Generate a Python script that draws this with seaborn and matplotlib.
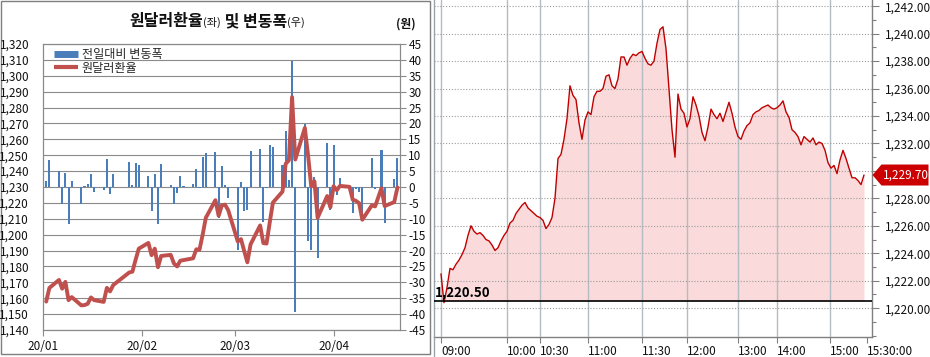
import numpy as np
import pandas as pd
import matplotlib
matplotlib.use("Agg")
import matplotlib.pyplot as plt
import matplotlib.dates as mdates
from matplotlib.lines import Line2D
from matplotlib.patches import Rectangle, Polygon
from matplotlib.transforms import IdentityTransform
from matplotlib.ticker import FuncFormatter, MultipleLocator
import seaborn as sns

# ---------------- data: left panel (daily) ----------------
dates = [
    "2020-01-02", "2020-01-03", "2020-01-06", "2020-01-07", "2020-01-08", "2020-01-09", "2020-01-10",
    "2020-01-13", "2020-01-14", "2020-01-15", "2020-01-16", "2020-01-17", "2020-01-20", "2020-01-21",
    "2020-01-22", "2020-01-23", "2020-01-28", "2020-01-29", "2020-01-30", "2020-01-31",
    "2020-02-03", "2020-02-04", "2020-02-05", "2020-02-06", "2020-02-07", "2020-02-10", "2020-02-11",
    "2020-02-12", "2020-02-13", "2020-02-14", "2020-02-17", "2020-02-18", "2020-02-19", "2020-02-20",
    "2020-02-21", "2020-02-24", "2020-02-25", "2020-02-26", "2020-02-27", "2020-02-28",
    "2020-03-02", "2020-03-03", "2020-03-04", "2020-03-05", "2020-03-06", "2020-03-09", "2020-03-10",
    "2020-03-11", "2020-03-12", "2020-03-13", "2020-03-16", "2020-03-17", "2020-03-18", "2020-03-19",
    "2020-03-20", "2020-03-23", "2020-03-24", "2020-03-25", "2020-03-26", "2020-03-27", "2020-03-30",
    "2020-03-31",
    "2020-04-01", "2020-04-02", "2020-04-03", "2020-04-06", "2020-04-07", "2020-04-08", "2020-04-09",
    "2020-04-10", "2020-04-13", "2020-04-14", "2020-04-16", "2020-04-17", "2020-04-20", "2020-04-21",
]
rate = [
    1157.9, 1166.5, 1171.5, 1166.0, 1170.3, 1158.8, 1160.7, 1155.5, 1155.7, 1156.5,
    1160.5, 1158.8, 1157.7, 1166.5, 1164.3, 1168.3, 1176.2, 1176.7, 1184.2, 1191.2,
    1194.8, 1187.1, 1191.2, 1179.5, 1186.6, 1187.3, 1181.9, 1180.0, 1183.6, 1184.0,
    1185.1, 1190.8, 1190.5, 1200.0, 1210.7, 1221.7, 1211.9, 1218.4, 1218.9, 1215.4,
    1195.7, 1197.2, 1189.8, 1182.6, 1193.9, 1205.8, 1194.7, 1194.4, 1207.6, 1220.2,
    1227.1, 1244.6, 1246.8, 1286.6, 1247.3, 1267.2, 1250.1, 1230.4, 1233.6, 1210.6,
    1224.3, 1217.2,
    1230.5, 1228.0, 1230.7, 1230.1, 1222.0, 1221.3, 1219.8, 1209.4, 1218.5, 1217.8,
    1229.3, 1218.0, 1220.5, 1229.7,
]
change = [
    1.8, 8.6, 5.0, -5.5, 4.3, -11.5, 1.9, -5.2, 0.2, 0.8,
    4.0, -1.7, -1.1, 8.8, -2.2, 4.0, 7.9, 0.5, 7.5, 7.0,
    3.6, -7.7, 4.1, -11.7, 7.1, 0.7, -5.4, -1.9, 3.6, 0.4,
    1.1, 5.7, -0.3, 9.5, 10.7, 11.0, -9.8, 6.5, 0.5, -3.5,
    -19.7, 1.5, -7.4, -7.2, 11.3, 11.9, -11.1, -0.3, 13.2, 12.6,
    6.9, 17.5, 2.2, 39.8, -39.3, 19.9, -17.1, -19.7, 3.2, -22.3,
    13.7, -7.1,
    13.3, -2.5, 2.7, -0.6, -8.1, -0.7, -1.5, -10.4, 9.1, -0.7,
    11.5, -11.3, 2.5, 9.2,
]
month_ticks = ["2020-01-01", "2020-02-01", "2020-03-01", "2020-04-01"]
month_labels = ["20/01", "20/02", "20/03", "20/04"]
left_ticks = list(range(1140, 1321, 10))
right_ticks = list(range(-45, 46, 5))

# ---------------- data: right panel (intraday) ----------------
intraday = [
    1222.5, 1220.4, 1221.5, 1222.9, 1222.8, 1223.2, 1223.5, 1223.9, 1224.4, 1225.3,
    1226.0, 1225.6, 1225.4, 1225.5, 1225.3, 1225.0, 1224.9, 1224.6, 1224.2, 1224.4,
    1224.9, 1225.3, 1225.6, 1226.2, 1226.4, 1226.9, 1227.2, 1227.5, 1227.7, 1227.3,
    1227.1, 1226.9, 1226.7, 1226.6, 1226.4, 1225.8, 1226.1, 1226.6, 1228.0, 1230.9,
    1231.2, 1232.3, 1233.8, 1236.2, 1235.5, 1235.2, 1233.5, 1232.3, 1233.7, 1234.3,
    1234.1, 1235.4, 1235.8, 1235.8, 1236.0, 1236.9, 1237.0, 1236.2, 1236.0, 1236.7,
    1238.3, 1238.3, 1237.7, 1238.2, 1238.5, 1238.4, 1238.6, 1238.7, 1238.2, 1237.8,
    1237.7, 1238.0, 1239.3, 1240.3, 1240.5, 1238.9, 1236.0, 1233.0, 1231.0, 1235.6,
    1234.5, 1234.2, 1233.2, 1233.8, 1235.4, 1234.8, 1234.0, 1232.8, 1232.2, 1233.2,
    1234.5, 1234.1, 1233.8, 1234.2, 1233.6, 1234.3, 1235.0, 1234.2, 1233.2, 1232.5,
    1232.3, 1232.9, 1233.3, 1233.5, 1234.1, 1234.3, 1234.4, 1234.6, 1234.7, 1234.8,
    1234.6, 1234.5, 1234.6, 1234.8, 1235.1, 1234.3, 1233.9, 1233.0, 1232.8, 1232.5,
    1231.9, 1232.5, 1232.3, 1232.1, 1232.4, 1231.9, 1232.1, 1232.0, 1231.5, 1230.6,
    1230.2, 1230.4, 1229.8, 1230.8, 1231.5, 1230.9, 1230.2, 1229.5, 1229.5, 1229.3,
    1229.0, 1229.7,
]
time_labels = ["09:00", "10:00", "10:30", "11:00", "11:30", "12:00", "13:00", "14:00", "15:00", "15:30:00"]
time_tick_index = [0, 22.1, 33, 49.1, 67.1, 82.1, 99.1, 112.1, 129.7, 142]
price_ticks = list(range(1220, 1243, 2))
prev_close = 1220.50
last_close = 1229.70

# ---------------- styling ----------------
sns.set_theme(style="white")
plt.rcParams["font.family"] = ["Noto Sans CJK KR", "DejaVu Sans"]
plt.rcParams["axes.unicode_minus"] = False

BAR_C = "#4A7EBB"
LINE_C = "#C0504D"
GRID_C = "#8A8A8A"
TXT_C = "#111111"

W, H = 930, 357
fig = plt.figure(figsize=(W / 100, H / 100), dpi=100)


def fx(px):
    return px / W


def fy(py):
    return 1 - py / H


# ================= left panel =================
ax1 = fig.add_axes([fx(43), fy(330), (400 - 43) / W, (330 - 44) / H])
ax2 = ax1.twinx()
ax1.set_zorder(ax2.get_zorder() + 1)
ax1.patch.set_visible(False)

dnum = mdates.date2num(pd.to_datetime(dates))
t0 = mdates.date2num(pd.Timestamp("2020-01-01"))

sns.barplot(x=dnum, y=change, ax=ax2, native_scale=True, color=BAR_C,
            saturation=1, width=0.65, errorbar=None, linewidth=0, zorder=2)
sns.lineplot(x=dnum, y=rate, ax=ax1, color=LINE_C, linewidth=2.8)

ax1.set_xlim(t0, t0 + 111.8)
ax1.set_ylim(1140, 1320)
ax2.set_ylim(-45, 45)
ax1.set_yticks(left_ticks)
ax2.set_yticks(right_ticks)
ax1.yaxis.set_major_formatter(FuncFormatter(lambda v, p: f"{v:,.0f}"))
ax2.yaxis.set_major_formatter(FuncFormatter(lambda v, p: f"{v:.0f}"))
ax1.set_xticks(mdates.date2num(pd.to_datetime(month_ticks)))
ax1.set_xticklabels(month_labels)
for a in (ax1, ax2):
    a.set_xlabel("")
    a.set_ylabel("")
    for s in a.spines.values():
        s.set_color(GRID_C)
        s.set_linewidth(0.8)
ax1.grid(False)
ax2.yaxis.grid(True, color=GRID_C, linewidth=0.8)
ax2.xaxis.grid(False)
ax2.set_axisbelow(True)

ax1.tick_params(axis="y", left=False, labelsize=8.5, pad=4, labelcolor=TXT_C)
ax1.tick_params(axis="x", bottom=True, length=4, width=0.8, color=GRID_C,
                labelsize=8.5, pad=3, labelcolor=TXT_C)
ax2.tick_params(axis="y", right=True, length=4, width=0.8, color=GRID_C,
                labelsize=8.5, pad=2, labelcolor=TXT_C)

handles = [Line2D([0], [0], color=BAR_C, lw=5, solid_capstyle="butt"),
           Line2D([0], [0], color=LINE_C, lw=3, solid_capstyle="butt")]
ax1.legend(handles, ["전일대비 변동폭", "원달러환율"], loc="upper left",
           bbox_to_anchor=(fx(54), fy(48)), bbox_transform=fig.transFigure,
           frameon=False, fontsize=8.7, handlelength=2.0, handletextpad=0.3,
           labelspacing=0.05, borderaxespad=0, borderpad=0)

# title pieces
renderer = fig.canvas.get_renderer()


def place_pieces(pieces, xc, ybase):
    texts = [fig.text(0, 0, s, fontsize=fs, fontweight=fw, color=TXT_C,
                      ha="left", va="baseline", transform=IdentityTransform())
             for s, fs, fw in pieces]
    widths = [t.get_window_extent(renderer).width for t in texts]
    x = xc - sum(widths) / 2
    for t, w in zip(texts, widths):
        t.set_position((x, ybase))
        x += w


place_pieces([("원달러환율", 11.5, "bold"), ("(좌)", 8, "normal"),
              (" 및 변동폭", 11.5, "bold"), ("(우)", 8, "normal")], 217, H - 26)
fig.text(fx(406), fy(28), "(원)", fontsize=8.5, fontweight="bold", color=TXT_C,
         ha="center", va="baseline")

fig.add_artist(Rectangle((fx(1), fy(354)), (430 - 1) / W, (354 - 0.5) / H,
                         transform=fig.transFigure, fill=False, ec="#7F7F7F", lw=1))

# ================= right panel =================
ax3 = fig.add_axes([fx(434), fy(337), (871.5 - 434) / W, 337 / H])
idx = np.arange(len(intraday))
ax3.fill_between(idx, intraday, prev_close, color="#FADADA", lw=0, zorder=1)
sns.lineplot(x=idx, y=intraday, ax=ax3, color="#C00000", linewidth=1.0, zorder=3)
ax3.axhline(prev_close, color="black", lw=1.2, zorder=4)
ax3.text(-1.9, prev_close + 0.12, f"{prev_close:,.2f}", fontsize=9.5, fontweight="bold",
         color="black", ha="left", va="bottom", zorder=5)

ax3.set_xlim(-2.33, 143.5)
ax3.set_ylim(1217.9, 1242.45)
ax3.set_xlabel("")
ax3.set_ylabel("")
ax3.yaxis.tick_right()
ax3.set_yticks(price_ticks)
ax3.yaxis.set_minor_locator(MultipleLocator(1))
ax3.yaxis.set_major_formatter(
    FuncFormatter(lambda v, p: "" if abs(v - round(last_close)) < 0.5 else f"{v:,.2f}"))
ax3.set_xticks(time_tick_index)
ax3.set_xticklabels(time_labels, ha="left")
ax3.set_axisbelow(False)
ax3.yaxis.grid(True, which="major", color="#9C9C9C", linestyle=(0, (1, 1.6)), linewidth=0.8, zorder=2)
ax3.xaxis.grid(True, color="#B3BCC5", linewidth=1.0, zorder=2)
ax3.xaxis.get_gridlines()[-1].set_visible(False)
ax3.tick_params(axis="x", bottom=True, length=4, width=0.8, color="#808080",
                labelsize=8.5, pad=2, labelcolor=TXT_C)
ax3.tick_params(axis="y", which="major", right=True, left=False, length=5, width=0.8,
                color="#808080", labelsize=8.5, pad=5, labelcolor=TXT_C)
ax3.tick_params(axis="y", which="minor", right=True, left=False, length=3, width=0.8,
                color="#808080")
ax3.spines["top"].set_visible(False)
ax3.spines["left"].set_color("#9AA4AE")
ax3.spines["bottom"].set_color("#808080")
ax3.spines["right"].set_color("#808080")
for s in ("left", "bottom", "right"):
    ax3.spines[s].set_linewidth(1.0)

fig.add_artist(Line2D([fx(434), fx(434)], [fy(337), fy(356)], transform=fig.transFigure,
                      color="#9AA4AE", lw=1))

# close-price marker on the right axis
fig.canvas.draw()
ypix = ax3.transData.transform((0, last_close))[1]
xr = ax3.transAxes.transform((1, 0))[0]
poly = Polygon([[xr + 1, ypix], [xr + 10, ypix + 10.5], [xr + 57, ypix + 10.5],
                [xr + 57, ypix - 10.5], [xr + 10, ypix - 10.5]], closed=True,
               transform=IdentityTransform(), fc="#CC0000", ec="none", zorder=10)
fig.add_artist(poly)
fig.text(xr + 34, ypix, f"{last_close:,.2f}", transform=IdentityTransform(), color="white",
         fontsize=8.5, ha="center", va="center", zorder=11)

fig.savefig("out.png", dpi=100)
